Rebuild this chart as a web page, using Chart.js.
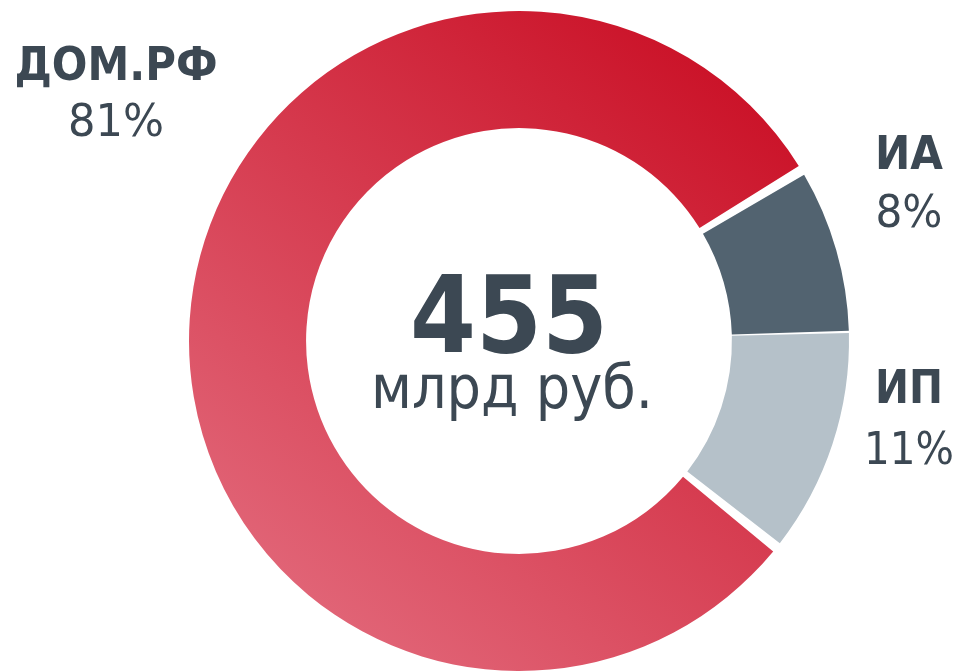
<!DOCTYPE html>
<html>
<head>
<meta charset="utf-8">
<script src="https://cdn.jsdelivr.net/npm/chart.js@4/dist/chart.umd.min.js"></script>
<style>
  html, body { margin: 0; padding: 0; background: #fff; }
  #wrap { width: 961px; height: 671px; position: relative; }
</style>
</head>
<body>
<div id="wrap"><canvas id="myChart"></canvas></div>
<script>
  // data
  var categories = ['ДОМ.РФ', 'ИА', 'ИП'];
  var shares = [81, 8, 11];
  var totalValue = '455';
  var totalUnit = 'млрд руб.';

  var textColor = '#3c4853';
  var font = '"DejaVu Sans", Verdana, sans-serif';

  // label spots: [x, nameBaseline, pctBaseline, nameWidth, pctWidth]
  var labelSpots = [
    [116, 80, 136, 203, 96],
    [909, 169, 227, 68, 67],
    [909, 403, 464, 68, 90]
  ];

  function redGradient(chart) {
    var area = chart.chartArea;
    if (!area) return '#d63447';
    var cx = (area.left + area.right) / 2;
    var cy = (area.top + area.bottom) / 2;
    var r = 330;
    var g = chart.ctx.createLinearGradient(cx + 0.85 * r, cy - 0.85 * r, cx - 0.6 * r, cy + 0.95 * r);
    g.addColorStop(0, '#c90c22');
    g.addColorStop(1, '#e2687a');
    return g;
  }

  var labelsPlugin = {
    id: 'labelsPlugin',
    afterDraw: function(chart) {
      var ctx = chart.ctx;
      var area = chart.chartArea;
      var cx = (area.left + area.right) / 2;
      ctx.save();
      ctx.fillStyle = textColor;
      ctx.textAlign = 'center';
      ctx.textBaseline = 'alphabetic';

      ctx.font = 'bold 107px ' + font;
      ctx.fillText(totalValue, cx - 10, 352, 198);
      ctx.font = '61px ' + font;
      ctx.fillText(totalUnit, cx - 7, 408, 282);

      categories.forEach(function(name, i) {
        var s = labelSpots[i];
        ctx.font = 'bold 47px ' + font;
        ctx.fillText(name, s[0], s[1], s[3]);
        ctx.font = '45px ' + font;
        ctx.fillText(shares[i] + '%', s[0], s[2], s[4]);
      });
      ctx.restore();
    }
  };

  var chart = new Chart(document.getElementById('myChart'), {
    type: 'doughnut',
    data: {
      labels: categories,
      datasets: [{
        data: shares,
        backgroundColor: function(c) {
          if (c.dataIndex === 0) return redGradient(c.chart);
          return c.dataIndex === 1 ? '#526370' : '#b5c1c9';
        },
        borderWidth: 0,
        spacing: 6,
        hoverOffset: 0,
        offset: 0
      }]
    },
    options: {
      responsive: true,
      maintainAspectRatio: false,
      animation: false,
      rotation: 128,
      radius: 327,
      cutout: '64.2%',
      layout: { padding: { left: 187, right: 110, top: 11, bottom: 0 } },
      plugins: {
        legend: { display: false },
        tooltip: { enabled: false }
      }
    },
    plugins: [labelsPlugin]
  });
</script>
</body>
</html>
